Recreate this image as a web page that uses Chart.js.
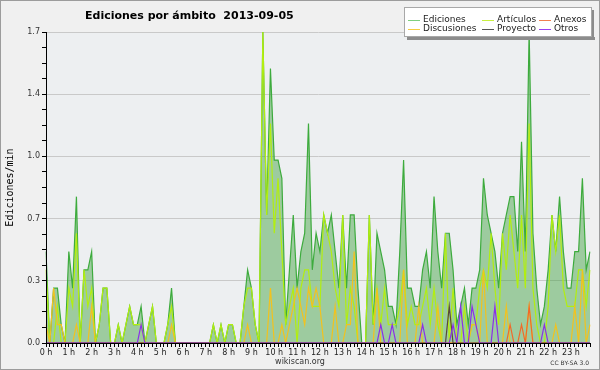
<!DOCTYPE html>
<html>
<head>
<meta charset="utf-8">
<script src="https://cdn.jsdelivr.net/npm/chart.js@4.4.1/dist/chart.umd.min.js"></script>
<style>
  html, body { margin: 0; padding: 0; background: #f0f0f0; }
  #caja { width: 600px; height: 370px; }
</style>
</head>
<body>
<div id="caja"><canvas id="graficoEdiciones" width="600" height="370"></canvas></div>
<script>
// etiquetas de las horas (cada hora tiene 6 intervalos de 10 min)
const horas = ['0 h', '1 h', '2 h', '3 h', '4 h', '5 h', '6 h', '7 h', '8 h', '9 h', '10 h', '11 h',
  '12 h', '13 h', '14 h', '15 h', '16 h', '17 h', '18 h', '19 h', '20 h', '21 h', '22 h', '23 h'];
const minutos = ['00', '10', '20', '30', '40', '50'];

const ticksY = ['0.0', '0.3', '0.7', '1.0', '1.4', '1.7'];
const maxY = 1.7;

const nombres = ['Ediciones', 'Artículos', 'Anexos', 'Discusiones', 'Proyecto', 'Otros'];

const ediciones = [
  0.5, 0, 0.3, 0.3, 0.1, 0,       // 0 h
  0.5, 0.3, 0.8, 0, 0.4, 0.4,     // 1 h
  0.5, 0, 0.1, 0.3, 0.3, 0,       // 2 h
  0, 0.1, 0, 0.1, 0.2, 0.1,       // 3 h
  0.1, 0.2, 0, 0.1, 0.2, 0,       // 4 h
  0, 0, 0.1, 0.3, 0, 0,           // 5 h
  0, 0, 0, 0, 0, 0,               // 6 h
  0, 0, 0.1, 0, 0.1, 0,           // 7 h
  0.1, 0.1, 0, 0, 0.2, 0.4,       // 8 h
  0.3, 0.1, 0, 1.7, 0.7, 1.5,     // 9 h
  1.0, 1.0, 0.9, 0.1, 0.4, 0.7,   // 10 h
  0.3, 0.5, 0.6, 1.2, 0.4, 0.6,   // 11 h
  0.5, 0.7, 0.6, 0.7, 0.5, 0.3,   // 12 h
  0.7, 0.3, 0.7, 0.7, 0.3, 0,     // 13 h
  0, 0.7, 0.1, 0.6, 0.5, 0.4,     // 14 h
  0.2, 0.2, 0.1, 0.5, 1.0, 0.3,   // 15 h
  0.3, 0.2, 0.2, 0.4, 0.5, 0.3,   // 16 h
  0.8, 0.5, 0.3, 0.6, 0.6, 0.4,   // 17 h
  0.1, 0.2, 0.3, 0.1, 0.3, 0.3,   // 18 h
  0.4, 0.9, 0.7, 0.6, 0.5, 0.3,   // 19 h
  0.6, 0.7, 0.8, 0.8, 0.5, 1.1,   // 20 h
  0.5, 1.7, 0.6, 0.3, 0.1, 0.2,   // 21 h
  0.4, 0.7, 0.5, 0.8, 0.5, 0.3,   // 22 h
  0.3, 0.5, 0.5, 0.9, 0.4, 0.5    // 23 h
];

const articulos = [
  0.4, 0, 0, 0.2, 0, 0,
  0.3, 0.2, 0.6, 0, 0.4, 0.2,
  0.3, 0, 0.1, 0.3, 0.3, 0,
  0, 0.1, 0, 0.1, 0.2, 0.1,
  0.1, 0.1, 0, 0.1, 0.2, 0,
  0, 0, 0.1, 0.2, 0, 0,
  0, 0, 0, 0, 0, 0,
  0, 0, 0.1, 0, 0.1, 0,
  0.1, 0.1, 0, 0, 0.2, 0.3,
  0.3, 0.1, 0, 1.7, 0.7, 1.2,
  0.6, 0.9, 0.5, 0.1, 0.2, 0.3,
  0, 0.3, 0.4, 0.4, 0.2, 0.2,
  0.2, 0.7, 0.6, 0.5, 0.3, 0.2,
  0.7, 0.1, 0.3, 0.2, 0, 0,
  0, 0.7, 0.1, 0.3, 0.1, 0.3,
  0.1, 0.1, 0.1, 0.2, 0.4, 0.1,
  0.2, 0.1, 0.1, 0.2, 0.3, 0.1,
  0.3, 0.1, 0, 0.6, 0, 0.3,
  0, 0, 0.2, 0, 0.1, 0.1,
  0.3, 0.4, 0.3, 0.6, 0.3, 0.1,
  0.6, 0.4, 0.7, 0.5, 0.3, 0.7,
  0.3, 1.2, 0.3, 0.1, 0, 0,
  0.2, 0.7, 0.5, 0.7, 0.3, 0.2,
  0.2, 0.2, 0.4, 0.4, 0.2, 0.4
];

const anexos = [
  0, 0, 0, 0, 0, 0,
  0, 0, 0, 0, 0, 0,
  0, 0, 0, 0, 0, 0,
  0, 0, 0, 0, 0, 0,
  0, 0, 0, 0, 0, 0,
  0, 0, 0, 0, 0, 0,
  0, 0, 0, 0, 0, 0,
  0, 0, 0, 0, 0, 0,
  0, 0, 0, 0, 0, 0,
  0, 0, 0, 0, 0, 0,
  0, 0, 0, 0, 0, 0,
  0, 0, 0, 0, 0, 0,
  0, 0, 0, 0, 0, 0,
  0, 0, 0, 0, 0, 0,
  0, 0, 0, 0, 0, 0,
  0, 0, 0, 0, 0, 0,
  0, 0, 0, 0, 0, 0,
  0, 0, 0, 0, 0, 0,
  0, 0, 0, 0, 0, 0,
  0, 0, 0, 0, 0, 0,
  0, 0, 0.1, 0, 0, 0.1,
  0, 0.2, 0, 0, 0, 0,
  0, 0, 0, 0, 0, 0,
  0, 0, 0, 0, 0, 0
];

const discusiones = [
  0.1, 0, 0.3, 0.1, 0.1, 0,
  0, 0, 0.1, 0, 0, 0,
  0.2, 0, 0, 0, 0, 0,
  0, 0, 0, 0, 0, 0,
  0, 0, 0, 0, 0, 0,
  0, 0, 0, 0.1, 0, 0,
  0, 0, 0, 0, 0, 0,
  0, 0, 0, 0, 0, 0,
  0, 0, 0, 0, 0, 0.1,
  0, 0, 0, 0, 0, 0.3,
  0, 0, 0.1, 0, 0.1, 0.2,
  0.3, 0.2, 0.1, 0.3, 0.2, 0.3,
  0.2, 0, 0, 0, 0.2, 0,
  0, 0.1, 0.1, 0.5, 0, 0,
  0, 0, 0, 0.3, 0, 0,
  0, 0, 0, 0, 0.4, 0,
  0, 0, 0.2, 0, 0, 0,
  0, 0.2, 0, 0, 0, 0,
  0, 0, 0, 0, 0.1, 0.1,
  0, 0.4, 0, 0, 0, 0,
  0, 0.2, 0, 0, 0, 0,
  0, 0.2, 0, 0, 0, 0,
  0, 0, 0.1, 0, 0, 0,
  0, 0.2, 0, 0.4, 0, 0.1
];

const proyecto = [
  0, 0, 0, 0, 0, 0,
  0, 0, 0, 0, 0, 0,
  0, 0, 0, 0, 0, 0,
  0, 0, 0, 0, 0, 0,
  0, 0, 0, 0, 0, 0,
  0, 0, 0, 0, 0, 0,
  0, 0, 0, 0, 0, 0,
  0, 0, 0, 0, 0, 0,
  0, 0, 0, 0, 0, 0,
  0, 0, 0, 0, 0, 0,
  0, 0, 0, 0, 0, 0,
  0, 0, 0, 0, 0, 0,
  0, 0, 0, 0, 0, 0,
  0, 0, 0, 0, 0, 0,
  0, 0, 0, 0, 0, 0,
  0, 0, 0, 0, 0, 0,
  0, 0, 0, 0, 0, 0,
  0, 0, 0, 0, 0.2, 0,
  0, 0, 0, 0, 0, 0,
  0, 0, 0, 0, 0, 0,
  0, 0, 0, 0, 0, 0,
  0, 0, 0, 0, 0, 0,
  0, 0, 0, 0, 0, 0,
  0, 0, 0, 0, 0, 0
];

const otros = [
  0, 0, 0, 0, 0, 0,
  0, 0, 0, 0, 0, 0,
  0, 0, 0, 0, 0, 0,
  0, 0, 0, 0, 0, 0,
  0, 0.1, 0, 0, 0, 0,
  0, 0, 0, 0, 0, 0,
  0, 0, 0, 0, 0, 0,
  0, 0, 0, 0, 0, 0,
  0, 0, 0, 0, 0, 0,
  0, 0, 0, 0, 0, 0,
  0, 0, 0, 0, 0, 0,
  0, 0, 0, 0, 0, 0,
  0, 0, 0, 0, 0, 0,
  0, 0, 0, 0, 0, 0,
  0, 0, 0, 0, 0.1, 0,
  0, 0.1, 0, 0, 0, 0,
  0, 0, 0, 0.1, 0, 0,
  0, 0, 0, 0, 0, 0.1,
  0, 0.2, 0, 0, 0.2, 0.1,
  0, 0, 0, 0, 0.2, 0,
  0, 0, 0, 0, 0, 0,
  0, 0, 0, 0, 0, 0.1,
  0, 0, 0, 0, 0, 0,
  0, 0, 0, 0, 0, 0
];

const colores = ['#3dab3d', '#b2ee10', '#f06a2a', '#f2c21e', '#5a4a3a', '#8a30e8'];
const coloresLeyenda = ['#7fcf7f', '#c8f040', '#f08050', '#f5cc40', '#555555', '#9a40f0'];

const categorias = [];
horas.forEach(h => minutos.forEach(m => categorias.push(h.replace(' h', '') + ':' + m)));

const fuente = '"DejaVu Sans", "Liberation Sans", sans-serif';

// fondo, ejes encima de las series, título, leyenda y pie
const decorado = {
  id: 'decorado',
  beforeDraw(chart) {
    const { ctx, chartArea: a, width, height } = chart;
    ctx.save();
    ctx.fillStyle = '#f0f0f0';
    ctx.fillRect(0, 0, width, height);
    ctx.fillStyle = '#edeff1';
    ctx.fillRect(a.left, a.top, a.right - a.left, a.bottom - a.top);
    ctx.strokeStyle = '#9c9c9c';
    ctx.lineWidth = 1;
    ctx.strokeRect(0.5, 0.5, width - 1, height - 1);
    ctx.restore();
  },
  afterDatasetsDraw(chart) {
    const { ctx, chartArea: a } = chart;
    const x0 = Math.round(a.left - 0.5) + 0.5;
    const y0 = Math.round(a.bottom - 0.5) + 0.5;
    ctx.save();
    ctx.strokeStyle = '#000';
    ctx.lineWidth = 1;
    ctx.beginPath();
    ctx.moveTo(x0, a.top);
    ctx.lineTo(x0, y0);
    ctx.lineTo(a.right, y0);
    ctx.stroke();
    ctx.restore();
  },
  afterDraw(chart) {
    const { ctx } = chart;
    ctx.save();
    // título
    ctx.fillStyle = '#000';
    ctx.font = 'bold 11px ' + fuente;
    ctx.textBaseline = 'alphabetic';
    ctx.textAlign = 'left';
    ctx.fillText('Ediciones por ámbito  2013-09-05', 85, 19);

    // leyenda
    const lx = 404, ly = 7, lw = 188, lh = 30;
    ctx.fillStyle = '#8c8c8c';
    ctx.fillRect(lx + 3, ly + lh, lw, 3);
    ctx.fillRect(lx + lw, ly + 3, 2, lh);
    ctx.fillStyle = '#ffffff';
    ctx.fillRect(lx, ly, lw, lh);
    ctx.strokeStyle = '#a8a8a8';
    ctx.strokeRect(lx + 0.5, ly + 0.5, lw - 1, lh - 1);
    const colX = [408, 482, 539];
    const filaY = [20, 29];
    ctx.font = '9px ' + fuente;
    ctx.textBaseline = 'middle';
    nombres.forEach((n, i) => {
      const x = colX[i % 3], y = filaY[Math.floor(i / 3)];
      ctx.strokeStyle = coloresLeyenda[i];
      ctx.lineWidth = 1;
      ctx.beginPath();
      ctx.moveTo(x, y + 0.5);
      ctx.lineTo(x + 12, y + 0.5);
      ctx.stroke();
      ctx.fillStyle = '#222';
      ctx.fillText(n, x + 15, y);
    });

    // pie
    ctx.textBaseline = 'alphabetic';
    ctx.fillStyle = '#333';
    ctx.font = '8px ' + fuente;
    ctx.textAlign = 'center';
    ctx.fillText('wikiscan.org', 300, 364);
    ctx.font = '6px ' + fuente;
    ctx.textAlign = 'right';
    ctx.fillText('CC BY-SA 3.0', 589, 365);
    ctx.restore();
  }
};

const series = [ediciones, articulos, anexos, discusiones, proyecto, otros];
const orden = [6, 5, 3, 4, 2, 1];

const ctx = document.getElementById('graficoEdiciones').getContext('2d');

const graficoEdiciones = new Chart(ctx, {
  type: 'line',
  data: {
    labels: categorias,
    datasets: series.map((s, i) => ({
      label: nombres[i],
      data: s,
      borderColor: colores[i],
      borderWidth: 1.2,
      backgroundColor: i === 0 ? 'rgba(60,160,60,0.45)' : colores[i],
      fill: i === 0 ? 'origin' : false,
      pointRadius: 0,
      tension: 0,
      order: orden[i]
    }))
  },
  options: {
    responsive: false,
    animation: false,
    layout: { padding: { top: 32, right: 10, bottom: 0, left: 0 } },
    plugins: {
      legend: { display: false },
      title: { display: false },
      tooltip: { enabled: false }
    },
    scales: {
      x: {
        ticks: {
          autoSkip: false,
          maxRotation: 0,
          minRotation: 0,
          padding: 1,
          color: '#222',
          font: { family: fuente, size: 8 },
          callback: (v, i) => (i % 6 === 0 ? horas[i / 6] : '')
        },
        grid: { drawOnChartArea: false, tickColor: '#000', tickLength: 4 },
        border: { color: '#000' },
        afterFit(scale) { scale.height = 27; }
      },
      y: {
        min: 0,
        max: maxY,
        afterBuildTicks(scale) {
          const t = [];
          for (let k = 0; k <= 20; k++) t.push({ value: maxY * k / 20 });
          scale.ticks = t;
        },
        ticks: {
          autoSkip: false,
          padding: 2,
          color: '#333',
          font: { family: fuente, size: 8 },
          callback: (v, i) => (i % 4 === 0 ? ticksY[i / 4] : '')
        },
        grid: {
          color: c => (c.index % 4 === 0 ? '#c9c9c9' : 'rgba(0,0,0,0)'),
          tickColor: '#000',
          tickLength: 4
        },
        border: { color: '#000' },
        title: {
          display: true,
          text: 'Ediciones/min',
          color: '#000',
          font: { family: '"DejaVu Sans Mono", monospace', size: 10 },
          padding: { top: 4, bottom: 0 }
        },
        afterFit(scale) { scale.width = 46; }
      }
    }
  },
  plugins: [decorado]
});
</script>
</body>
</html>
